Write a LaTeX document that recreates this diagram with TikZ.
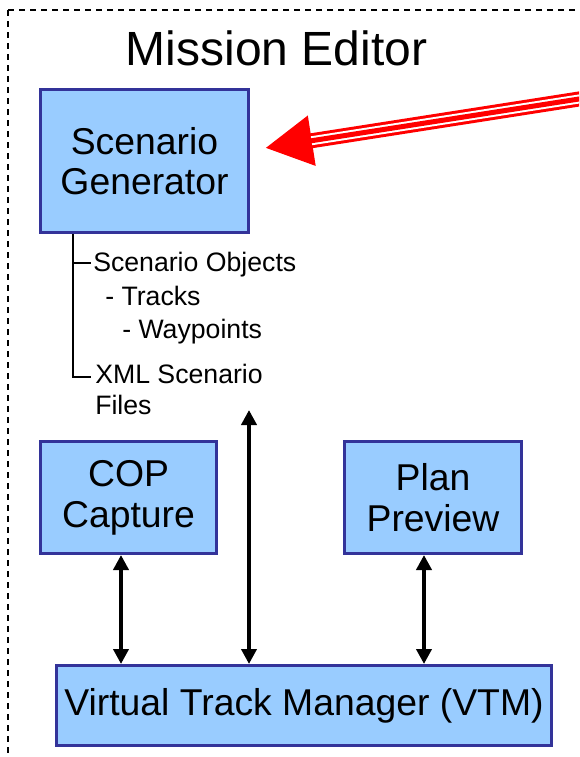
\documentclass[tikz,border=0pt]{standalone}
\usepackage{fontspec}
\setmainfont{Liberation Sans}
\usetikzlibrary{arrows.meta,positioning,calc}
\definecolor{boxfill}{HTML}{99CCFF}
\definecolor{boxedge}{HTML}{333399}
\tikzset{
module/.style={rectangle, draw=boxedge, fill=boxfill, line width=2.25pt,
               align=center, inner sep=0pt, font=\fontsize{28}{30.5}\selectfont},
>={Triangle[length=11.25pt,width=11.25pt]},
link/.style={<->, line width=3pt},
leaf/.style={anchor=base west, inner sep=0pt, font=\fontsize{20}{24}\selectfont},
tree/.style={line width=1.5pt},
feed/.style={red, line width=11.25pt, -{Triangle[length=35.5pt,width=35.5pt]},
             postaction={draw=white, line width=6.75pt, shorten >=35.3pt, -},
             postaction={draw=red, line width=3.75pt, shorten >=34pt, -}},
}
\begin{document}
\begin{tikzpicture}[x=0.75pt, y=-0.75pt]

    \useasboundingbox (0,0) rectangle (579,757);
    \clip (0,0) rectangle (579,757);
    \draw[line width=1.1pt, dash pattern=on 4.5pt off 3.75pt] (8,10) rectangle (640,800);

    \node[anchor=base, inner sep=0pt, font=\fontsize{36}{40}\selectfont] (title) at (276.5,65) {Mission Editor};

    \node[module, minimum width=156pt, minimum height=107.25pt] (gen) at (144.5,161) {Scenario\\Generator};
    \node[module, minimum width=132pt, minimum height=84pt] (cop) at (128.5,497.5) {COP\\Capture};
    \node[module, minimum width=132.75pt, minimum height=84pt] (plan) at (433,497.5) {Plan\\Preview};
    \node[module, minimum width=371.25pt, minimum height=60pt] (vtm) at (304,705.5) {Virtual Track Manager (VTM)};

    \node[leaf] (objs) at (93,271) {Scenario Objects};
    \node[leaf] (tracks) at (105,305.5) {- Tracks};
    \node[leaf] (wpts) at (122,338.5) {- Waypoints};
    \node[leaf] (xml) at (95,383.5) {XML Scenario};
    \node[leaf] (files) at (95,414.5) {Files};

    \coordinate (stem) at (73,0);
    \draw[tree] (gen.south -| stem) |- (91,377);
    \draw[tree] (73,263) -- (91,263);

    \coordinate (xmlout) at (249,410);
    \draw[link] ([xshift=-5.625pt]cop.south) -- ([xshift=-5.625pt]cop.south |- vtm.north);
    \draw[link] (xmlout) -- (xmlout |- vtm.north);
    \draw[link] ([xshift=-6.75pt]plan.south) -- ([xshift=-6.75pt]plan.south |- vtm.north);

    \coordinate (feedin) at (620,92.6);
    \coordinate (gentip) at (265,148);
    \draw[feed] (feedin) -- (gentip);

\end{tikzpicture}
\end{document}
